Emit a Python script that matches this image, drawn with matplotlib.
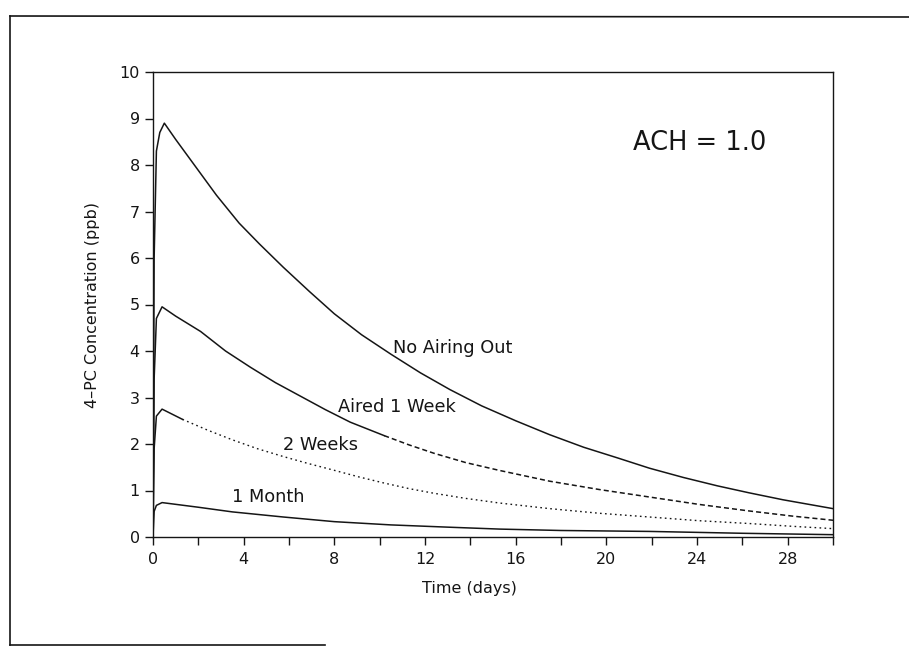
import matplotlib
matplotlib.use('Agg')
import matplotlib.pyplot as plt
from matplotlib.lines import Line2D

# data (days, ppb)
t_none = [0, 0.05, 0.15, 0.3, 0.5, 1.0, 1.6, 2.2, 2.8, 3.3, 3.8, 4.7, 5.75, 6.9, 8.0, 9.2, 10.5, 11.8, 13.1,
          14.5, 16.0, 17.5, 19.0, 20.5, 21.9, 23.4, 24.9, 26.3, 27.8, 30]
c_none = [0, 6.0, 8.3, 8.7, 8.9, 8.55, 8.15, 7.75, 7.35, 7.05, 6.75, 6.3, 5.8, 5.28, 4.8, 4.35, 3.93, 3.53, 3.17,
          2.82, 2.5, 2.2, 1.93, 1.7, 1.48, 1.28, 1.1, 0.95, 0.8, 0.61]

t_week = [0, 0.05, 0.15, 0.4, 1.0, 2.1, 3.2, 4.3, 5.4, 6.5, 7.6, 8.7, 10.2, 11.3, 12.4, 13.8, 15.3, 17.5,
          19.7, 21.9, 24.1, 26.3, 28.2, 30]
c_week = [0, 3.4, 4.7, 4.95, 4.75, 4.42, 4.0, 3.65, 3.32, 3.03, 2.74, 2.47, 2.18, 1.98, 1.8, 1.6, 1.43, 1.2,
          1.02, 0.86, 0.7, 0.56, 0.45, 0.36]

t_2wk = [0, 0.05, 0.15, 0.4, 1.3, 2.4, 3.5, 4.6, 5.75, 6.85, 7.95, 9.1, 10.2, 11.3, 12.4, 13.8, 15.3, 17.5,
         19.7, 21.9, 24.1, 26.3, 28.2, 30]
c_2wk = [0, 1.9, 2.6, 2.75, 2.53, 2.3, 2.09, 1.9, 1.73, 1.58, 1.44, 1.29, 1.16, 1.04, 0.94, 0.83, 0.73, 0.61,
         0.51, 0.43, 0.35, 0.29, 0.23, 0.18]

t_month = [0, 0.05, 0.15, 0.4, 2.0, 3.5, 5.75, 8.0, 10.5, 13.1, 15.3, 18.0, 21.9, 26.0, 30]
c_month = [0, 0.55, 0.68, 0.74, 0.64, 0.54, 0.43, 0.33, 0.26, 0.21, 0.17, 0.14, 0.12, 0.08, 0.05]

# where the plotter switched from solid to broken line
week_split = 10.2
two_wk_split = 1.3

x_ticks = [0, 4, 8, 12, 16, 20, 24, 28]
y_ticks = list(range(0, 11))

ink = '#151515'

fig = plt.figure(figsize=(9.09, 6.52), dpi=100)
ax = fig.add_axes([153 / 909, 1 - 537 / 652, 680 / 909, 465 / 652])

# no airing out
ax.plot(t_none, c_none, color=ink, lw=1.1)

# aired 1 week: solid then dashed
n = t_week.index(week_split)
ax.plot(t_week[:n + 1], c_week[:n + 1], color=ink, lw=1.1)
ax.plot(t_week[n:], c_week[n:], color=ink, lw=1.1, dashes=(3.3, 2))

# 2 weeks: solid then dotted
n = t_2wk.index(two_wk_split)
ax.plot(t_2wk[:n + 1], c_2wk[:n + 1], color=ink, lw=1.1)
ax.plot(t_2wk[n:], c_2wk[n:], color=ink, lw=1.0, dashes=(1.2, 2.4))

# 1 month
ax.plot(t_month, c_month, color=ink, lw=1.1)

ax.set_xlim(0, 30)
ax.set_ylim(0, 10)
ax.set_xticks(x_ticks)
ax.set_xticks(range(0, 31, 2), minor=True)
ax.set_yticks(y_ticks)
ax.tick_params(axis='both', which='both', direction='out', length=6, width=1.0,
               colors=ink, labelsize=11.5)
ax.tick_params(axis='x', pad=5)
for s in ax.spines.values():
    s.set_linewidth(1.0)
    s.set_color(ink)

ax.set_xlabel('Time (days)', fontsize=11.5, color=ink, labelpad=10)
ax.xaxis.set_label_coords(0.466, -0.094)
ax.set_ylabel('4–PC Concentration (ppb)', fontsize=11.5, color=ink, labelpad=14)

# curve labels
ax.text(13.2, 4.06, 'No Airing Out', fontsize=12.8, color=ink, ha='center', va='center')
ax.text(10.75, 2.8, 'Aired 1 Week', fontsize=12.8, color=ink, ha='center', va='center')
ax.text(7.4, 1.98, '2 Weeks', fontsize=12.8, color=ink, ha='center', va='center')
ax.text(5.08, 0.86, '1 Month', fontsize=12.8, color=ink, ha='center', va='center')
ax.text(24.1, 8.47, 'ACH = 1.0', fontsize=18.5, color=ink, ha='center', va='center')

# page frame of the scan
def px(x, y):
    return x / 909, 1 - y / 652

for (x0, y0), (x1, y1) in [((10, 16), (909, 17)), ((10, 16), (10, 645)), ((10, 645), (325, 645))]:
    a, b = px(x0, y0)
    c, d = px(x1, y1)
    fig.add_artist(Line2D([a, c], [b, d], color=ink, lw=1.2))

fig.savefig('out.png', dpi=100)
